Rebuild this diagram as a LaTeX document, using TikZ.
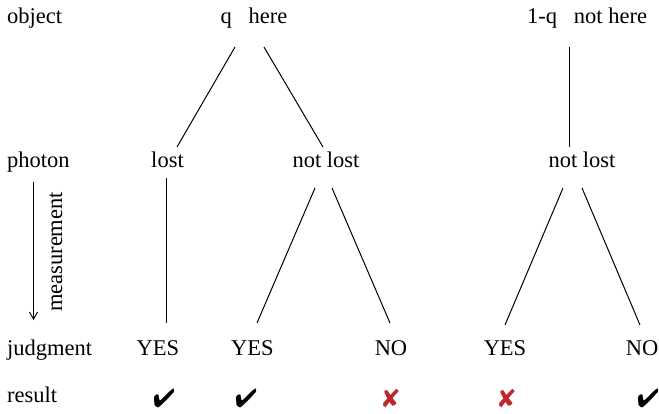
\documentclass[tikz,border=0pt]{standalone}
\usepackage{fontspec}
\setmainfont{Liberation Serif}
\usepackage{pifont}
\usetikzlibrary{arrows.meta}
\definecolor{crossred}{RGB}{190,40,45}
\begin{document}
\begin{tikzpicture}[x=1pt,y=-1pt,
  lbl/.style={inner sep=0pt, anchor=base, font=\fontsize{22.5}{27}\selectfont},
  rowlbl/.style={lbl, anchor=base west},
  edge/.style={line width=1pt},
  ok/.style={inner sep=0pt, font=\fontsize{26}{30}\selectfont},
  bad/.style={ok, text=crossred}]
\useasboundingbox (0,0) rectangle (659,414);

% row captions
\node[rowlbl] (cobj)  at (7,24)  {object};
\node[rowlbl] (cpho)  at (7,168) {photon};
\node[rowlbl] (cjud)  at (7,355) {judgment};
\node[rowlbl] (cres)  at (7,402) {result};

% measurement direction
\coordinate (mtop) at (33.5,182);
\coordinate (mbot) at (33.5,320);
\draw[line width=0.9pt, -{Straight Barb[length=7pt,width=8pt]}] (mtop) -- (mbot);
\node[lbl, anchor=center, rotate=90] (meas) at (56,252) {measurement};

% object
\node[lbl] (here)    at (254,24)  {q\ \ \ here};
\node[lbl] (nothere) at (587,24)  {1-q\ \ \ not here};

% photon
\node[lbl] (lost)  at (167.5,168) {lost};
\node[lbl] (nl1)   at (326,168)   {not lost};
\node[lbl] (nl2)   at (582,168)   {not lost};

% judgment
\node[lbl] (y1) at (158,355)   {YES};
\node[lbl] (y2) at (252.5,355) {YES};
\node[lbl] (n1) at (391,355)   {NO};
\node[lbl] (y3) at (505,355)   {YES};
\node[lbl] (n2) at (642,355)   {NO};

% result
\node[ok]  (r1) at (164,398) {\ding{52}};
\node[ok]  (r2) at (246,398) {\ding{52}};
\node[bad] (r3) at (391,398) {\ding{56}};
\node[bad] (r4) at (507,398) {\ding{56}};
\node[ok]  (r5) at (648,398) {\ding{52}};

% branch end points
\coordinate (hereL) at (235,47);
\coordinate (hereR) at (264,47);
\coordinate (nhB)   at (569.5,47);
\coordinate (lostT) at (177,147);
\coordinate (lostB) at (166.5,178);
\coordinate (nl1T)  at (323,147);
\coordinate (nl1L)  at (315,188);
\coordinate (nl1R)  at (332,188);
\coordinate (nl2T)  at (569.5,147);
\coordinate (nl2L)  at (563,188);
\coordinate (nl2R)  at (582,188);
\coordinate (y1T)   at (166.5,323);
\coordinate (y2T)   at (257,323);
\coordinate (n1T)   at (390,323);
\coordinate (y3T)   at (505,325);
\coordinate (n2T)   at (640,325);

\draw[edge] (hereL) -- (lostT);
\draw[edge] (hereR) -- (nl1T);
\draw[edge] (nhB) -- (nl2T);
\draw[edge] (lostB) -- (y1T);
\draw[edge] (nl1L) -- (y2T);
\draw[edge] (nl1R) -- (n1T);
\draw[edge] (nl2L) -- (y3T);
\draw[edge] (nl2R) -- (n2T);
\end{tikzpicture}
\end{document}
